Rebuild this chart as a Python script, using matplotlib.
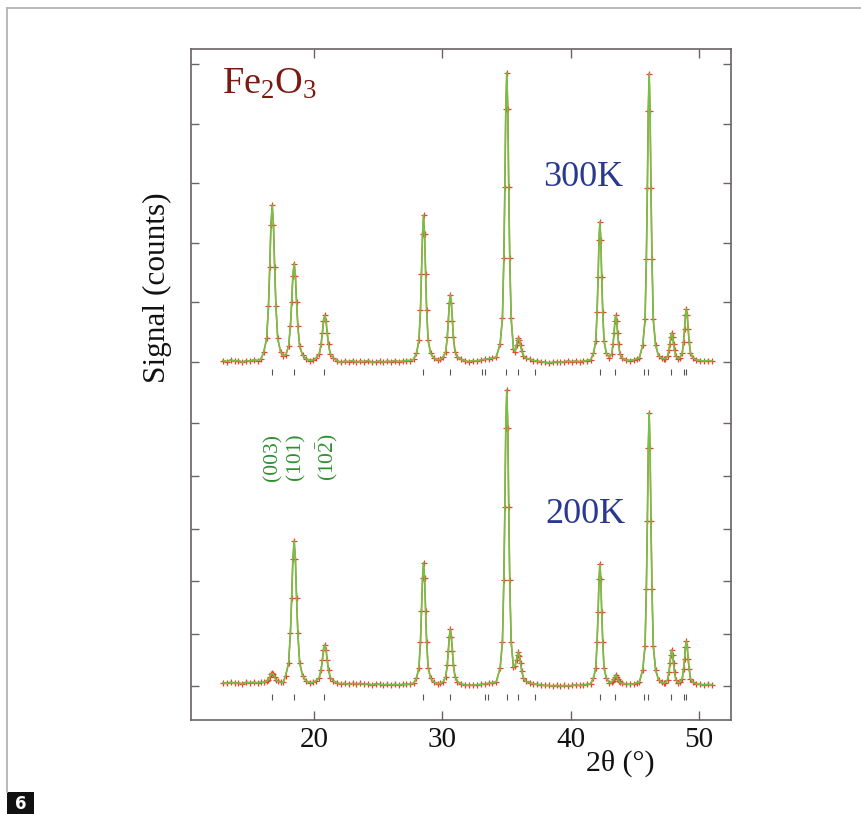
import matplotlib
matplotlib.use('Agg')
import matplotlib.pyplot as plt
from matplotlib.lines import Line2D
from matplotlib.patches import Rectangle

plt.rcParams['font.family'] = ['Liberation Serif', 'DejaVu Serif']
plt.rcParams['mathtext.fontset'] = 'custom'
plt.rcParams['mathtext.rm'] = 'Liberation Serif'
plt.rcParams['mathtext.it'] = 'Liberation Serif:italic'
plt.rcParams['mathtext.bf'] = 'Liberation Serif:bold'
plt.rcParams['mathtext.default'] = 'regular'

# ---------------- data ----------------
two_theta = [
    12.9, 13.2, 13.5, 13.8, 14.1, 14.4, 14.7, 15.0, 15.3, 15.6, 15.85,
    16.07, 16.30, 16.44, 16.54, 16.63, 16.73, 16.83, 16.92, 17.02, 17.16, 17.39,
    17.6,
    17.78, 18.01, 18.15, 18.25, 18.34, 18.44, 18.54, 18.63, 18.73, 18.87, 19.10,
    19.35, 19.7, 19.95,
    20.17, 20.40, 20.54, 20.64, 20.73, 20.83, 20.93, 21.02, 21.12, 21.26, 21.49,
    21.75, 22.1, 22.4, 22.7, 23.0, 23.3, 23.6, 23.9, 24.2, 24.5, 24.8, 25.1, 25.4, 25.7, 26.0, 26.3, 26.6, 26.9, 27.2, 27.5, 27.75,
    27.98, 28.17, 28.29, 28.37, 28.45, 28.53, 28.61, 28.69, 28.77, 28.89, 29.08,
    29.35, 29.65, 29.85,
    30.07, 30.26, 30.38, 30.46, 30.54, 30.62, 30.70, 30.78, 30.86, 30.98, 31.17,
    31.45, 31.8, 32.1, 32.4, 32.7, 33.0, 33.3, 33.6, 33.9, 34.2,
    34.50, 34.68, 34.79, 34.87, 34.94, 35.02, 35.10, 35.17, 35.25, 35.36,
    35.54, 35.66, 35.78, 35.86, 35.93, 36.01, 36.09, 36.19, 36.32, 36.5,
    36.8, 37.1, 37.4, 37.7, 38.0, 38.3, 38.6, 38.9, 39.2, 39.5, 39.8, 40.1, 40.4, 40.7, 41.0, 41.3, 41.55,
    41.78, 41.96, 42.06, 42.14, 42.21, 42.28, 42.35, 42.42, 42.50, 42.60, 42.78,
    43.02, 43.20, 43.30, 43.38, 43.45, 43.52, 43.59, 43.66, 43.74, 43.84, 44.02,
    44.3, 44.6, 44.9, 45.15, 45.35,
    45.62, 45.80, 45.90, 45.98, 46.05, 46.12, 46.19, 46.26, 46.34, 46.44, 46.62,
    46.85, 47.1, 47.3,
    47.38, 47.56, 47.66, 47.74, 47.81, 47.88, 47.95, 48.02, 48.10, 48.20, 48.38,
    48.52, 48.70, 48.80, 48.88, 48.95, 49.02, 49.09, 49.16, 49.24, 49.34, 49.52,
    49.8, 50.1, 50.4, 50.7, 51.0,
]

counts_300K = [
    0.02, 0.00, 0.03, 0.01, 0.02, -0.01, 0.02, 0.01, 0.03, 0.02, 0.04,
    0.16, 0.39, 0.94, 1.59, 2.29, 2.63, 2.29, 1.59, 0.94, 0.39, 0.16,
    0.10,
    0.11, 0.26, 0.60, 1.00, 1.44, 1.65, 1.44, 1.00, 0.60, 0.26, 0.11,
    0.05, 0.02, 0.03,
    0.06, 0.13, 0.29, 0.48, 0.68, 0.78, 0.68, 0.48, 0.29, 0.13, 0.06,
    0.02, -0.01, 0.01, 0.00, 0.02, -0.01, 0.01, 0.00, 0.02, -0.01, 0.00, 0.01, -0.01, 0.01, 0.00, 0.02, 0.00, 0.01, 0.02, 0.02, 0.04,
    0.14, 0.36, 0.87, 1.48, 2.14, 2.46, 2.14, 1.48, 0.87, 0.36, 0.14,
    0.06, 0.03, 0.04,
    0.08, 0.17, 0.41, 0.68, 0.98, 1.12, 0.98, 0.68, 0.41, 0.17, 0.08,
    0.04, 0.01, 0.00, 0.02, 0.01, 0.03, 0.04, 0.05, 0.06, 0.08,
    0.30, 0.73, 1.74, 2.94, 4.24, 4.86, 4.24, 2.94, 1.74, 0.73,
    0.22, 0.17, 0.28, 0.36, 0.40, 0.36, 0.28, 0.18, 0.10, 0.06,
    0.04, 0.02, 0.01, 0.00, -0.01, -0.02, -0.01, 0.00, -0.01, 0.00, 0.01, 0.00, 0.01, 0.00, 0.01, 0.02, 0.03,
    0.14, 0.35, 0.84, 1.42, 2.05, 2.35, 2.05, 1.42, 0.84, 0.35, 0.14,
    0.07, 0.13, 0.29, 0.48, 0.68, 0.78, 0.68, 0.48, 0.29, 0.13, 0.06,
    0.03, 0.02, 0.03, 0.05, 0.06,
    0.28, 0.71, 1.72, 2.92, 4.22, 4.84, 4.22, 2.92, 1.72, 0.71, 0.28,
    0.10, 0.06, 0.05,
    0.05, 0.09, 0.19, 0.30, 0.42, 0.48, 0.42, 0.30, 0.19, 0.09, 0.05,
    0.07, 0.15, 0.33, 0.55, 0.78, 0.89, 0.78, 0.55, 0.33, 0.15, 0.07,
    0.03, 0.02, 0.01, 0.02, 0.01,
]

counts_200K = [
    0.06, 0.05, 0.07, 0.05, 0.06, 0.04, 0.07, 0.06, 0.07, 0.06, 0.07,
    0.07, 0.09, 0.12, 0.17, 0.22, 0.24, 0.22, 0.17, 0.12, 0.09, 0.07,
    0.07,
    0.20, 0.44, 1.01, 1.68, 2.41, 2.76, 2.41, 1.68, 1.01, 0.44, 0.20,
    0.10, 0.06, 0.07,
    0.10, 0.16, 0.31, 0.49, 0.69, 0.78, 0.69, 0.49, 0.31, 0.16, 0.10,
    0.06, 0.04, 0.05, 0.03, 0.05, 0.04, 0.05, 0.03, 0.04, 0.02, 0.04, 0.03, 0.02, 0.03, 0.02, 0.03, 0.02, 0.03, 0.03, 0.04, 0.05,
    0.15, 0.35, 0.84, 1.42, 2.05, 2.35, 2.05, 1.42, 0.84, 0.35, 0.15,
    0.07, 0.04, 0.05,
    0.08, 0.18, 0.40, 0.66, 0.94, 1.08, 0.94, 0.66, 0.40, 0.18, 0.08,
    0.04, 0.02, 0.01, 0.02, 0.02, 0.03, 0.04, 0.05, 0.06, 0.08,
    0.34, 0.84, 2.01, 3.41, 4.91, 5.64, 4.91, 3.41, 2.01, 0.84,
    0.36, 0.38, 0.50, 0.60, 0.64, 0.57, 0.44, 0.28, 0.15, 0.09,
    0.06, 0.04, 0.03, 0.02, 0.01, 0.01, 0.00, 0.01, 0.00, 0.01, 0.00, 0.01, 0.02, 0.01, 0.02, 0.03, 0.04,
    0.15, 0.35, 0.84, 1.41, 2.03, 2.33, 2.03, 1.41, 0.84, 0.35, 0.15,
    0.06, 0.07, 0.10, 0.14, 0.18, 0.21, 0.18, 0.14, 0.10, 0.07, 0.05,
    0.04, 0.03, 0.04, 0.06, 0.07,
    0.31, 0.77, 1.85, 3.14, 4.53, 5.20, 4.53, 3.14, 1.85, 0.77, 0.31,
    0.12, 0.07, 0.06,
    0.06, 0.12, 0.26, 0.43, 0.60, 0.69, 0.60, 0.43, 0.26, 0.12, 0.06,
    0.07, 0.14, 0.32, 0.52, 0.74, 0.85, 0.74, 0.52, 0.32, 0.14, 0.07,
    0.04, 0.03, 0.02, 0.03, 0.02,
]

bragg_300K = [16.73, 18.44, 20.80, 28.51, 30.58, 33.05, 33.31, 34.97, 35.90,
              37.21, 42.26, 43.45, 45.70, 46.02, 47.83, 48.87, 49.00]
bragg_200K = [16.73, 18.44, 20.80, 28.51, 30.58, 33.31, 33.57, 35.00, 35.90,
              37.21, 42.26, 43.48, 45.70, 46.02, 47.83, 48.87, 49.00]

hkl_labels = ['(003)', '(101)', r'(10$\bar{2}$)']
hkl_positions = [16.80, 18.55, 21.05]
panel_labels = ['300K', '200K']
x_ticks = [20, 30, 40, 50]
y_ticks = [0, 1, 2, 3, 4, 5]

# ---------------- style ----------------
W, H = 861, 814
spine_c = '#6b6262'
obs_c = '#e8412c'
calc_c = '#74c244'
hkl_c = '#2f8f2f'
temp_c = '#2a3990'
title_c = '#7a1a12'

fig = plt.figure(figsize=(W / 100, H / 100), dpi=100)
fig.patch.set_facecolor('white')

L, R, T, B = 191, 731, 49, 720
rect = [L / W, 1 - B / H, (R - L) / W, (B - T) / H]
XLIM = (10.4, 52.5)

ax = fig.add_axes(rect)
ax.set_ylim(0, 1)
ax.set_yticks([])
for s in ax.spines.values():
    s.set_color(spine_c)
    s.set_linewidth(1.2)


def panel(base_px, unit_px, x, y, bragg, tick_off):
    a = fig.add_axes(rect, sharex=ax)
    a.patch.set_visible(False)
    for s in a.spines.values():
        s.set_visible(False)
    a.set_ylim((base_px - B) / unit_px, (base_px - T) / unit_px)
    a.set_yticks(y_ticks)
    a.tick_params(axis='y', direction='in', left=True, right=True,
                  labelleft=False, labelright=False, length=6, width=1.0, color=spine_c)
    a.tick_params(axis='x', bottom=False, top=False, labelbottom=False)
    a.plot(x, y, color=obs_c, lw=1.0, zorder=2)
    a.plot(x, y, ls='none', marker='+', ms=5, mew=0.9, color=obs_c, zorder=2)
    a.plot(x, y, color=calc_c, lw=1.2, zorder=3)
    a.plot(bragg, [tick_off] * len(bragg), ls='none', marker='|', ms=5,
           mew=0.8, color='#555555', zorder=3)
    return a


ax_top = panel(361.7, 59.5, two_theta, counts_300K, bragg_300K, -0.17)
ax_bot = panel(686.0, 52.5, two_theta, counts_200K, bragg_200K, -0.20)

ax.set_xlim(*XLIM)
ax.set_xticks(x_ticks)
ax.tick_params(axis='x', direction='in', top=True, bottom=True, length=6.5,
               width=1.0, color=spine_c, labelsize=21, labelcolor='#111111', pad=5)

# labels in panels
ax_top.text(41.0, 3.09, panel_labels[0], color=temp_c, fontsize=26,
            ha='center', va='center')
ax_bot.text(41.17, 3.26, panel_labels[1], color=temp_c, fontsize=26,
            ha='center', va='center')
for xp, lab in zip(hkl_positions, hkl_labels):
    ax_bot.text(xp, 4.36, lab, rotation=90, color=hkl_c, fontsize=15.5,
                ha='center', va='center')

fig.text(222 / W, 1 - 84 / H, r'Fe$_2$O$_3$', color=title_c, fontsize=27.5,
         ha='left', va='center')
fig.text(157 / W, 1 - 288 / H, 'Signal (counts)', rotation=90, fontsize=22.5,
         ha='center', va='center', color='#111111')
fig.text(620 / W, 1 - 763 / H, '2θ (°)', fontsize=21.5, ha='center', va='center',
         color='#111111')

# outer frame and figure number
fig.add_artist(Line2D([7 / W, 7 / W], [1 - 792 / H, 1 - 8 / H], color='#b3b3b3',
                      lw=1.3, transform=fig.transFigure))
fig.add_artist(Line2D([7 / W, 1.0], [1 - 8 / H, 1 - 8 / H], color='#b3b3b3',
                      lw=1.3, transform=fig.transFigure))
fig.add_artist(Rectangle((7 / W, 0), 27 / W, 22 / H, facecolor='#111111',
                         edgecolor='none', transform=fig.transFigure))
fig.text(20.5 / W, 1 - 804 / H, '6', color='white', fontsize=12, fontweight='bold',
         family='DejaVu Sans', ha='center', va='center')

fig.savefig('out.png', dpi=100, facecolor='white')
